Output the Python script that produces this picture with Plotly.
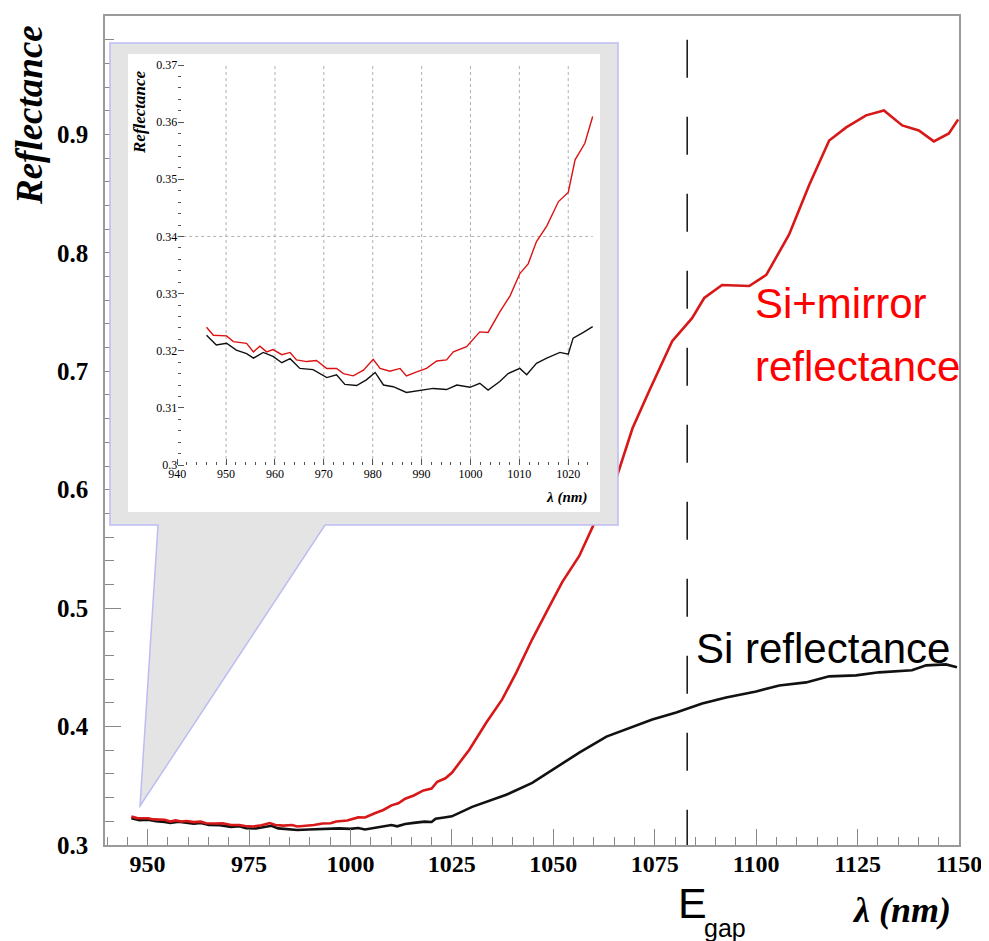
import plotly.graph_objects as go

# ---------------- data ----------------
inset_red_wl = [946.0, 947.4, 950.1, 951.5, 954.2, 955.6, 956.9, 958.3, 959.6, 961.4, 963.1, 964.4,
                966.5, 968.5, 970.6, 972.6, 974.0, 976.0, 978.1, 980.1, 981.5, 983.5, 985.6, 986.9,
                989.0, 991.0, 993.1, 995.1, 996.5, 999.2, 1001.9, 1003.6, 1006.0, 1008.1, 1010.1,
                1011.8, 1013.5, 1015.6, 1018.0, 1020.0, 1021.4, 1023.4, 1025.0]
inset_red = [0.3241, 0.3227, 0.3226, 0.3216, 0.3213, 0.3198, 0.3208, 0.3198, 0.3202, 0.3193, 0.3197,
             0.3184, 0.3181, 0.3183, 0.3169, 0.3169, 0.3160, 0.3156, 0.3166, 0.3185, 0.3169, 0.3164,
             0.3169, 0.3156, 0.3163, 0.3169, 0.3182, 0.3184, 0.3198, 0.3207, 0.3233, 0.3232, 0.3268,
             0.3296, 0.3335, 0.3352, 0.3391, 0.3418, 0.3461, 0.3477, 0.3534, 0.3563, 0.3610]

inset_black_wl = [946.0, 948.0, 950.1, 952.1, 954.2, 955.6, 957.6, 959.6, 961.4, 963.1, 965.1, 967.8,
                  970.6, 972.6, 974.3, 976.7, 978.7, 980.5, 982.2, 984.2, 986.9, 989.7, 992.4, 995.1,
                  997.2, 999.9, 1001.9, 1003.6, 1006.0, 1007.7, 1010.1, 1011.5, 1013.5, 1015.6,
                  1018.3, 1020.0, 1021.0, 1023.1, 1025.0]
inset_black = [0.3227, 0.3210, 0.3213, 0.3201, 0.3195, 0.3187, 0.3197, 0.3190, 0.3179, 0.3186, 0.3169,
               0.3167, 0.3153, 0.3158, 0.3141, 0.3139, 0.3149, 0.3162, 0.3140, 0.3137, 0.3127, 0.3131,
               0.3134, 0.3132, 0.3140, 0.3136, 0.3143, 0.3131, 0.3146, 0.3160, 0.3169, 0.3158, 0.3178,
               0.3187, 0.3197, 0.3194, 0.3222, 0.3232, 0.3242]

red_hi_wl = [1029.3, 1033.5, 1037.4, 1040.9, 1044.8, 1048.3, 1052.2, 1056.4, 1060.6, 1065.5, 1069.5,
             1073.6, 1079.3, 1084.2, 1087.2, 1091.6, 1098.3, 1102.5, 1108.1, 1113.1, 1118.0, 1122.2,
             1127.1, 1131.5, 1136.0, 1140.1, 1143.8, 1147.5, 1149.8]
red_hi = [0.3805, 0.4034, 0.4229, 0.4458, 0.4737, 0.4966, 0.5220, 0.5441, 0.5754, 0.6093, 0.6517,
          0.6831, 0.7254, 0.7449, 0.7619, 0.7729, 0.7720, 0.7814, 0.8153, 0.8576, 0.8949, 0.9059,
          0.9161, 0.9203, 0.9076, 0.9034, 0.8941, 0.9008, 0.9127]

black_hi_wl = [1030.0, 1038.4, 1044.8, 1050.7, 1056.4, 1063.1, 1069.5, 1074.4, 1080.3, 1086.7, 1092.6,
               1100.0, 1105.7, 1112.3, 1118.0, 1124.6, 1130.3, 1138.4, 1141.9, 1146.8, 1149.5]
black_hi = [0.3322, 0.3424, 0.3525, 0.3653, 0.3780, 0.3915, 0.4000, 0.4059, 0.4119, 0.4195, 0.4246,
            0.4297, 0.4347, 0.4373, 0.4424, 0.4432, 0.4458, 0.4475, 0.4517, 0.4525, 0.4500]

E_GAP = 1083.0
main_xticks = [950, 975, 1000, 1025, 1050, 1075, 1100, 1125, 1150]
main_yticks = [0.3, 0.4, 0.5, 0.6, 0.7, 0.8, 0.9, 1.0]
inset_xticks = [940, 950, 960, 970, 980, 990, 1000, 1010, 1020]
inset_yticks = [0.30, 0.31, 0.32, 0.33, 0.34, 0.35, 0.36, 0.37]

# ---------------- geometry helpers (screen pixel -> paper) ----------------
OFF = 8                      # page body margin offsets the figure by 8 px
W, H = 989, 941
PL, PR, PT, PB = 105, 959, 16, 845   # plot area in screen pixels
ML, MT = PL - OFF, PT - OFF
MR, MB = W - (PR - OFF), H - (PB - OFF)
PW, PH = PR - PL, PB - PT


def px(x):
    return (x - PL) / PW


def py(y):
    return (PB - y) / PH


# inset: data region in screen pixels
IX0, IPX = 177.2, 4.888      # x pixel of 940 nm, px per nm
IY0, IPY = 465.0, 5714.3     # y pixel of 0.30, px per unit
BOX = (110, 43, 618, 525)    # grey box l,t,r,b
WHITE = (128, 54, 600, 512)  # inner white region


def ilam(x):
    return 940 + (x - IX0) / IPX


def iref(y):
    return 0.30 + (IY0 - y) / IPY


serif = "Liberation Serif, Times New Roman, serif"
sans = "Liberation Sans, Arial, sans-serif"

fig = go.Figure()

# main curves
fig.add_trace(go.Scatter(x=inset_black_wl + black_hi_wl, y=inset_black + black_hi, mode="lines",
                         line=dict(color="#111111", width=2.6), xaxis="x", yaxis="y",
                         showlegend=False, hoverinfo="skip"))
fig.add_trace(go.Scatter(x=inset_red_wl + red_hi_wl, y=inset_red + red_hi, mode="lines",
                         line=dict(color="#d81818", width=2.6), xaxis="x", yaxis="y",
                         showlegend=False, hoverinfo="skip"))
# inset curves
fig.add_trace(go.Scatter(x=inset_black_wl, y=inset_black, mode="lines",
                         line=dict(color="#111111", width=1.4), xaxis="x2", yaxis="y2",
                         showlegend=False, hoverinfo="skip"))
fig.add_trace(go.Scatter(x=inset_red_wl, y=inset_red, mode="lines",
                         line=dict(color="#dd1111", width=1.4), xaxis="x2", yaxis="y2",
                         showlegend=False, hoverinfo="skip"))

shapes = []
wedge = [(158, 525), (325, 525), (140, 806)]
shapes.append(dict(type="path", xref="paper", yref="paper", layer="below",
                   path="M " + " L ".join("{} {}".format(px(a), py(b)) for a, b in wedge) + " Z",
                   fillcolor="#e4e4e4", line=dict(width=0)))
shapes.append(dict(type="rect", xref="x2", yref="y2", layer="below",
                   x0=ilam(BOX[0] - 5), x1=ilam(BOX[2] + 5), y0=iref(BOX[3] + 5), y1=iref(BOX[1] - 5),
                   fillcolor="#e4e4e4", line=dict(width=0)))
shapes.append(dict(type="rect", xref="x2", yref="y2", layer="below",
                   x0=ilam(WHITE[0]), x1=ilam(WHITE[2]), y0=iref(WHITE[3]), y1=iref(WHITE[1]),
                   fillcolor="white", line=dict(width=0)))
for v in inset_xticks[1:]:
    shapes.append(dict(type="line", xref="x2", yref="y2", layer="below", x0=v, x1=v,
                       y0=inset_yticks[0], y1=inset_yticks[-1],
                       line=dict(color="#b0b0b0", width=1, dash="dot")))
shapes.append(dict(type="line", xref="x2", yref="y2", layer="below", x0=940, x1=1025,
                   y0=0.34, y1=0.34, line=dict(color="#b0b0b0", width=1, dash="dot")))
pts = [(BOX[0], BOX[1]), (BOX[2], BOX[1]), (BOX[2], BOX[3]), (325, 525), (140, 806), (158, 525),
       (BOX[0], BOX[3])]
shapes.append(dict(type="path", xref="paper", yref="paper", layer="above",
                   path="M " + " L ".join("{} {}".format(px(a), py(b)) for a, b in pts) + " Z",
                   line=dict(color="#bcbcf4", width=1.5)))
shapes.append(dict(type="line", xref="x", yref="y", layer="above", x0=E_GAP, x1=E_GAP,
                   y0=0.98, y1=0.30, line=dict(color="black", width=1.4, dash="38px,39px")))


def label(text, x, y, size, family, color="black", xanchor="center", angle=0, bold=False, italic=False):
    f = dict(family=family, size=size, color=color)
    if bold:
        f["weight"] = "bold"
    if italic:
        f["style"] = "italic"
    return dict(text=text, x=px(x), y=py(y), xref="paper", yref="paper", showarrow=False,
                xanchor=xanchor, yanchor="middle", textangle=angle, font=f)


ann = [
    label("Reflectance", 29, 115, 37, serif, angle=-90, bold=True, italic=True),
    label("λ (nm)", 901, 910, 36, serif, bold=True, italic=True),
    label("E", 676, 903, 43, sans, xanchor="left"),
    label("gap", 702, 928, 25, sans, xanchor="left"),
    label("Si+mirror", 753, 303, 42, sans, color="#ff0000", xanchor="left"),
    label("reflectance", 753, 367, 42, sans, color="#ff0000", xanchor="left"),
    label("Si reflectance", 694, 648, 42, sans, xanchor="left"),
    label("Reflectance", 140, 112, 17, serif, angle=-90, bold=True, italic=True),
    label("λ (nm)", 566, 497, 15, serif, bold=True, italic=True),
]

inset_xminor = [v for v in range(942, 1026, 2) if v % 10 != 0]
inset_yminor = [round(0.30 + 0.002 * i, 3) for i in range(1, 35) if i % 5 != 0]

fig.update_layout(
    width=W, height=H, margin=dict(l=ML, r=MR, t=MT, b=MB, autoexpand=False),
    paper_bgcolor="white", plot_bgcolor="white", showlegend=False,
    shapes=shapes, annotations=ann,
    xaxis=dict(range=[939.5, 1150], tickvals=main_xticks, ticks="inside", ticklen=16,
               tickcolor="#888888", showline=True, linecolor="#9a9a9a", linewidth=1.5, mirror=True,
               showgrid=False, zeroline=False, ticklabelstandoff=-4, automargin=False,
               tickfont=dict(family=serif, size=24, color="black", weight="bold"),
               minor=dict(dtick=5, tick0=950, ticks="inside", ticklen=8, tickcolor="#888888",
                          showgrid=False)),
    yaxis=dict(range=[0.3, 1.0], tickvals=main_yticks, ticks="inside", ticklen=16,
               tickcolor="#888888", showline=True, linecolor="#9a9a9a", linewidth=1.5, mirror=True,
               showgrid=False, zeroline=False, ticklabelstandoff=10, automargin=False,
               tickfont=dict(family=serif, size=25, color="black", weight="bold"),
               minor=dict(dtick=0.02, tick0=0.3, ticks="inside", ticklen=9, tickcolor="#888888",
                          showgrid=False)),
    xaxis2=dict(domain=[px(BOX[0]), px(BOX[2])], anchor="free", position=py(IY0),
                range=[ilam(BOX[0]), ilam(BOX[2])], tickvals=inset_xticks, ticks="inside",
                ticklen=6, tickcolor="#555555", showline=False, showgrid=False, zeroline=False,
                automargin=False, tickfont=dict(family=serif, size=12, color="black"),
                minor=dict(tickvals=inset_xminor, ticks="inside", ticklen=3, tickcolor="#555555",
                           showgrid=False)),
    yaxis2=dict(domain=[py(BOX[3]), py(BOX[1])], anchor="free", position=px(IX0),
                range=[iref(BOX[3]), iref(BOX[1])], tickvals=inset_yticks, ticks="inside",
                ticklen=6, tickcolor="#555555", showline=False, showgrid=False, zeroline=False,
                automargin=False, tickfont=dict(family=serif, size=12, color="black"),
                minor=dict(tickvals=inset_yminor, ticks="inside", ticklen=3, tickcolor="#555555",
                           showgrid=False)),
)

fig.write_html("out.html")
